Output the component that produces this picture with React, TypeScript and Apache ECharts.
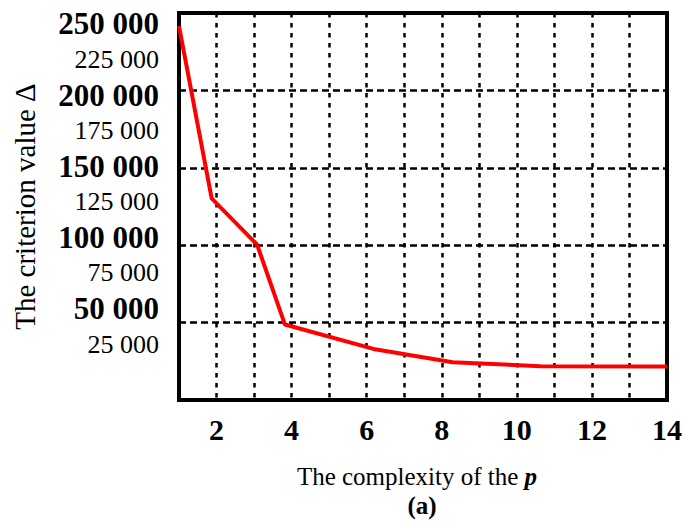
import React, { useEffect, useRef } from "react";
import * as echarts from "echarts";

// complexity p (read in units of the gridded x axis) and criterion value Δ
const complexityValues = [1, 1.87, 3.08, 3.82, 6.18, 8.29, 10.63, 14];
const criterionValues = [241500, 130200, 100400, 48800, 33000, 24400, 21800, 21600];

const xTickLabels = [2, 4, 6, 8, 10, 12, 14];
const yTickLabels = [25000, 50000, 75000, 100000, 125000, 150000, 175000, 200000, 225000, 250000];
const yBoldLabels = [50000, 100000, 150000, 200000, 250000];

const FONT = '"Liberation Serif", "Times New Roman", serif';

function fmt(v: number): string {
  const s = String(Math.round(v));
  return s.replace(/\B(?=(\d{3})+(?!\d))/g, " ");
}

export default function App() {
  const ref = useRef<HTMLDivElement>(null);
  useEffect(() => {
    if (!ref.current) return;
    const chart = echarts.init(ref.current, null, { renderer: "svg" });
    const seriesData = complexityValues.map((x, i) => [x, criterionValues[i]]);
    chart.setOption({
      animation: false,
      backgroundColor: "#ffffff",
      textStyle: { fontFamily: FONT, color: "#000" },
      grid: {
        left: 179,
        top: 13,
        width: 492,
        height: 387,
        show: true,
        borderColor: "#000",
        borderWidth: 4,
        backgroundColor: "transparent",
        containLabel: false,
      },
      xAxis: {
        type: "value",
        min: 1,
        max: 14,
        interval: 1,
        axisLine: { show: false },
        axisTick: { show: false },
        splitLine: {
          show: true,
          lineStyle: { color: "#000", width: 2.5, type: [4.5, 5.5] },
        },
        axisLabel: {
          customValues: xTickLabels,
          margin: 14,
          fontFamily: FONT,
          fontWeight: "bold",
          fontSize: 30,
          color: "#000",
          formatter: (v: number) => String(v),
        },
        name: "{n|The complexity of the }{p|p}",
        nameLocation: "middle",
        nameGap: 64,
        nameTextStyle: {
          padding: [0, 12, 0, 0],
          rich: {
            n: { fontFamily: FONT, fontSize: 25, color: "#000" },
            p: { fontFamily: FONT, fontSize: 25, color: "#000", fontWeight: "bold", fontStyle: "italic" },
          },
        },
      },
      yAxis: [
        {
          type: "value",
          min: 0,
          max: 250000,
          interval: 50000,
          axisLine: { show: false },
          axisTick: { show: false },
          axisLabel: { show: false },
          splitLine: {
            show: true,
            lineStyle: { color: "#000", width: 2.5, type: [7, 4] },
          },
          name: "The criterion value Δ",
          nameLocation: "middle",
          nameGap: 140,
          nameTextStyle: { fontFamily: FONT, fontSize: 29, color: "#000" },
        },
        {
          type: "value",
          position: "left",
          min: -14370,
          max: 257730,
          axisLine: { show: false },
          axisTick: { show: false },
          splitLine: { show: false },
          axisLabel: {
            customValues: yTickLabels,
            margin: 20,
            color: "#000",
            formatter: (v: number) =>
              yBoldLabels.includes(v) ? `{b|${fmt(v)}}` : `{n|${fmt(v)}}`,
            rich: {
              b: { fontFamily: FONT, fontWeight: "bold", fontSize: 31, color: "#000" },
              n: { fontFamily: FONT, fontSize: 26, color: "#000" },
            },
          },
        },
      ],
      graphic: [
        {
          type: "text",
          x: 422,
          y: 505,
          style: {
            text: "(a)",
            align: "center",
            verticalAlign: "middle",
            fontFamily: FONT,
            fontWeight: "bold",
            fontSize: 25,
            fill: "#000",
          },
        },
      ],
      series: [
        {
          type: "line",
          data: seriesData,
          yAxisIndex: 0,
          showSymbol: false,
          symbol: "none",
          lineStyle: { color: "#ff0000", width: 4 },
          z: 5,
        },
      ],
    });
    return () => chart.dispose();
  }, []);
  return (
    <div
      ref={ref}
      style={{ position: "fixed", left: 0, top: 0, width: 685, height: 524, background: "#fff" }}
    />
  );
}
